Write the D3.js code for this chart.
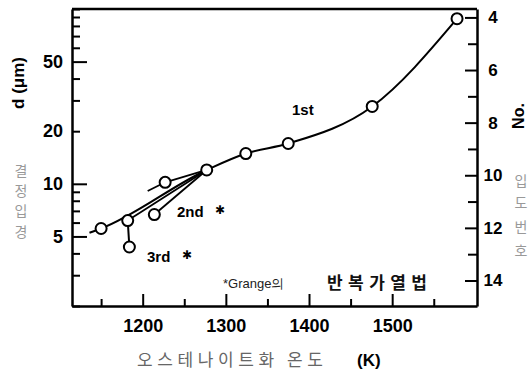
<!DOCTYPE html>
<html><head><meta charset="utf-8">
<script src="https://cdn.jsdelivr.net/npm/d3@7"></script>
<style>
html,body{margin:0;padding:0;background:#fff;}
svg{display:block;}
</style></head><body>
<svg id="chart" width="529" height="378"></svg>
<script>
// Austenitizing temperature (K) against austenite grain diameter d (μm)
const tempMajorTicks = [1200, 1300, 1400, 1500];
const tempMinorTicks = [1150, 1250, 1350, 1450, 1550];
const sizeTicks = [2, 3, 4, 5, 6, 7, 8, 9, 10, 20, 30, 40, 50, 60, 70, 80, 90, 100];
const sizeLabels = [5, 10, 20, 50];
const sizeLongTicks = [5, 10, 50];
const grainNoMajor = [4, 6, 8, 10, 12, 14];
const grainNoMinor = [5, 7, 9, 11, 13];

// 1st heating
const firstTemp = [1150, 1277, 1324, 1375, 1476, 1578];
const firstSize = [5.55, 12.0, 14.9, 17.0, 27.7, 88];
const firstLeadTemp = [1136];
const firstLeadSize = [5.25];

// 2nd heating (each joined to the 1277 K point)
const secondTemp = [1182, 1214, 1227];
const secondSize = [6.16, 6.67, 10.2];
const secondTailTemp = [1206];
const secondTailSize = [9.1];

// 3rd heating
const thirdTemp = [1184];
const thirdSize = [4.35];

const leftLabelChars = ["결", "정", "입", "경"];
const rightLabelChars = ["입", "도", "번", "호"];

const svg = d3.select("#chart");
const L = 72, R = 477, T = 9, B = 306;

const x = d3.scaleLinear().domain([1115, 1602]).range([L, R]);
const y = d3.scaleLog().domain([2, 100]).range([B, T]);
const yN = d3.scaleLinear().domain([14.97, 3.68]).range([B, T]);

const tickFont = "'Liberation Sans', Arial, sans-serif";
const krFont = "'Noto Sans CJK KR', sans-serif";

// ---- axes ----
svg.append("g").attr("transform", `translate(0,${B})`)
  .call(d3.axisBottom(x).tickValues(tempMajorTicks).tickSizeInner(-12).tickSizeOuter(0)
    .tickPadding(13).tickFormat(d3.format("d")));
const gxMinor = svg.append("g").attr("transform", `translate(0,${B})`)
  .call(d3.axisBottom(x).tickValues(tempMinorTicks).tickSizeInner(-7).tickSizeOuter(0)
    .tickFormat(""));
gxMinor.select(".domain").remove();

const gy = svg.append("g").attr("transform", `translate(${L},0)`)
  .call(d3.axisLeft(y).tickValues(sizeTicks).tickSizeInner(-8).tickSizeOuter(0)
    .tickPadding(9).tickFormat(d => sizeLabels.includes(d) ? d : ""));
gy.selectAll(".tick line").attr("x2", d => sizeLongTicks.includes(d) ? 15 : 8);

const gr = svg.append("g").attr("transform", `translate(${R},0)`)
  .call(d3.axisRight(yN).tickValues(grainNoMajor).tickSizeInner(-12).tickSizeOuter(0)
    .tickPadding(16).tickFormat(d3.format("d")));
gr.selectAll(".tick text").attr("text-anchor", "middle");
const grMinor = svg.append("g").attr("transform", `translate(${R},0)`)
  .call(d3.axisRight(yN).tickValues(grainNoMinor).tickSizeInner(-9).tickSizeOuter(0)
    .tickFormat(""));
grMinor.select(".domain").remove();

// top frame line
svg.append("line").attr("x1", x(1115)).attr("x2", x(1602))
  .attr("y1", y(100)).attr("y2", y(100))
  .attr("stroke", "#000").attr("stroke-width", 2.5);

svg.selectAll(".domain").attr("stroke", "#000").attr("stroke-width", 2.5);
svg.selectAll(".tick line").attr("stroke", "#000").attr("stroke-width", 2);
svg.selectAll(".tick text").attr("font-family", tickFont).attr("font-weight", "bold")
  .attr("fill", "#000").attr("font-size", 18);
gr.selectAll(".tick text").attr("font-size", 17);

// ---- curves ----
const firstPts = firstLeadTemp.map((t, i) => [t, firstSize.length ? firstLeadSize[i] : 0])
  .concat(firstTemp.map((t, i) => [t, firstSize[i]]));
svg.append("path").datum(firstPts)
  .attr("d", d3.line().x(d => x(d[0])).y(d => y(d[1])).curve(d3.curveMonotoneX))
  .attr("fill", "none").attr("stroke", "#000").attr("stroke-width", 2);

const hub = [firstTemp[1], firstSize[1]];
const straight = d3.line().x(d => x(d[0])).y(d => y(d[1]));
secondTemp.forEach((t, i) => {
  svg.append("path").datum([[t, secondSize[i]], hub]).attr("d", straight)
    .attr("fill", "none").attr("stroke", "#000").attr("stroke-width", 1.8);
});
svg.append("path").datum([[secondTailTemp[0], secondTailSize[0]], [secondTemp[2], secondSize[2]]])
  .attr("d", straight).attr("fill", "none").attr("stroke", "#000").attr("stroke-width", 1.8);
svg.append("path").datum([[secondTemp[0], secondSize[0]], [thirdTemp[0], thirdSize[0]]])
  .attr("d", straight).attr("fill", "none").attr("stroke", "#000").attr("stroke-width", 2);

// ---- markers ----
const allPts = firstTemp.map((t, i) => [t, firstSize[i]])
  .concat(secondTemp.map((t, i) => [t, secondSize[i]]))
  .concat(thirdTemp.map((t, i) => [t, thirdSize[i]]));
svg.selectAll("circle.pt").data(allPts).enter().append("circle")
  .attr("class", "pt")
  .attr("cx", d => x(d[0])).attr("cy", d => y(d[1])).attr("r", 5.5)
  .attr("fill", "#fff").attr("stroke", "#000").attr("stroke-width", 2);

// ---- series labels ----
const boldLbl = (tx, ty, s) => svg.append("text").attr("x", tx).attr("y", ty)
  .attr("font-family", tickFont).attr("font-weight", "bold").attr("font-size", 15)
  .attr("fill", "#000").text(s);
boldLbl(292, 115, "1st");
boldLbl(177, 217, "2nd");
boldLbl(147, 262, "3rd");
const star = (tx, ty) => svg.append("text").attr("x", tx).attr("y", ty)
  .attr("font-family", "'DejaVu Sans', sans-serif").attr("font-size", 12)
  .attr("font-weight", "bold").attr("fill", "#000").text("✱");
star(215, 214);
star(182, 259);

svg.append("text").attr("x", 223).attr("y", 288)
  .attr("font-family", tickFont).attr("font-size", 13).attr("fill", "#222")
  .text("*Grange의");
svg.append("text").attr("x", 327).attr("y", 289)
  .attr("font-family", krFont).attr("font-size", 17)
  .attr("font-weight", "bold").attr("fill", "#111")
  .attr("textLength", 100).attr("lengthAdjust", "spacing")
  .text("반복가열법");

// ---- axis titles ----
svg.append("text").attr("transform", "translate(24,83) rotate(-90)")
  .attr("text-anchor", "middle").attr("font-family", tickFont)
  .attr("font-weight", "bold").attr("font-size", 17).attr("fill", "#000")
  .text("d (μm)");
svg.append("text").attr("transform", "translate(524,116) rotate(-90)")
  .attr("text-anchor", "middle").attr("font-family", tickFont)
  .attr("font-weight", "bold").attr("font-size", 16).attr("fill", "#000")
  .text("No.");
svg.append("text").attr("x", 137).attr("y", 366)
  .attr("font-family", krFont).attr("font-size", 17)
  .attr("fill", "#666").attr("textLength", 186).attr("lengthAdjust", "spacing")
  .text("오스테나이트화 온도");
svg.append("text").attr("x", 357).attr("y", 366)
  .attr("font-family", tickFont).attr("font-weight", "bold").attr("font-size", 17)
  .attr("fill", "#000").text("(K)");

// vertical Korean captions beside the axes
const leftY = [171, 191, 211, 232];
leftLabelChars.forEach((c, i) => svg.append("text").attr("x", 21).attr("y", leftY[i] + 5)
  .attr("text-anchor", "middle").attr("font-family", krFont)
  .attr("font-size", 14).attr("fill", "#999").text(c));
const rightY = [181, 203, 227, 251];
rightLabelChars.forEach((c, i) => svg.append("text").attr("x", 521).attr("y", rightY[i] + 5)
  .attr("text-anchor", "middle").attr("font-family", krFont)
  .attr("font-size", 14).attr("fill", "#999").text(c));
</script>
</body></html>
